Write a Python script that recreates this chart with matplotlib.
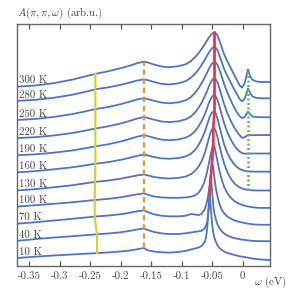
import matplotlib
matplotlib.use("Agg")
import matplotlib.pyplot as plt
import numpy as np

plt.rcParams['font.family'] = ['cmr10', 'DejaVu Serif']
plt.rcParams['mathtext.fontset'] = 'cm'
plt.rcParams['axes.unicode_minus'] = False
plt.rcParams['axes.formatter.use_mathtext'] = True

# energy grid (eV)
omega = [-0.37, -0.34, -0.31, -0.28, -0.26, -0.24, -0.22, -0.20, -0.185, -0.173,
         -0.162, -0.156, -0.146, -0.133, -0.12, -0.105, -0.093, -0.085, -0.078, -0.072,
         -0.067, -0.063, -0.06, -0.058, -0.056, -0.054, -0.052, -0.05, -0.048, -0.046,
         -0.044, -0.041, -0.038, -0.034, -0.03, -0.025, -0.02, -0.015, -0.01, -0.005,
         -0.001, 0.003, 0.006, 0.009, 0.012, 0.016, 0.022, 0.03, 0.045]

temps = ["10 K", "40 K", "70 K", "100 K", "130 K", "160 K", "190 K", "220 K", "250 K", "280 K", "300 K"]

# spectra (arb.u., before the vertical shift)
a_10 = [0, 1.3, 2.5, 3.5, 4.2, 4.8, 5.6, 6.5, 7.5, 8.7, 10, 7.8, 6.5, 5.7, 5.4, 6, 7.2, 8.5, 9.5, 10.5,
        12, 15, 20, 30, 47, 63, 50, 34, 25, 20, 16.5, 12.5, 10, 8, 6.5, 5, 4.2, 3.3, 2.5, 1.8,
        1.3, 1, 0.6, 0.3, 0, -0.5, -1, -1.5, -2]
a_40 = [0, 1.8, 3.3, 4.6, 5.6, 6.5, 7.4, 8.6, 10, 11.4, 12.5, 11, 9, 7.5, 6.8, 6.9, 7.6, 8.4, 9, 9.5,
        10.2, 12, 15, 19, 30, 47, 63.7, 50, 35, 27, 22, 16.5, 12.8, 9.5, 7.2, 5.3, 4, 3, 2.3, 1.7,
        1.3, 1, 0.7, 0.5, 0.3, 0, -0.2, -0.3, -0.3]
a_70 = [0, 1.5, 3.2, 4.9, 6.1, 7.3, 8.2, 9.5, 11, 12.5, 13.3, 11.8, 9.5, 8, 7.4, 7.4, 8, 9.8, 9.2, 8.6,
        10, 13.5, 18, 23, 30, 39, 50, 62, 56, 45, 36, 27, 20, 14, 10.3, 7.3, 5.4, 3.7, 2.7, 1.9,
        1.3, 0.8, 0.4, 0.1, -0.2, -0.5, -0.8, -1, -1]
a_100 = [0, 1.4, 2.8, 4.3, 5.5, 6.7, 7.8, 9.3, 11, 12.3, 13.2, 12, 10.2, 9.2, 8.8, 8.8, 9.2, 9.9, 11.2, 14,
         18.5, 24, 30, 35.5, 41, 47, 53, 58.5, 61.7, 59.5, 54, 45, 36, 26.5, 19.5, 13.5, 9.3, 6.3, 4.2, 2.7,
         1.7, 1, 0.5, 0.1, -0.2, -0.6, -1, -1.3, -1.3]
a_130 = [-1, 0.3, 2.2, 4.2, 6, 7.7, 9, 10.8, 12.6, 14, 15, 14.2, 12.6, 11.4, 11, 11.6, 13, 15.2, 18.5, 23,
         28.5, 34.5, 40.5, 45, 49.5, 54, 57.7, 60.3, 61.7, 61, 58.5, 52, 44, 34, 25.5, 17.5, 11.5, 7.2, 4.2, 2.2,
         1, 0.3, -0.1, -0.4, -0.6, -0.8, -1, -1, -1]
a_160 = [0, 1.2, 3, 5, 6.8, 8.7, 10.3, 12.5, 14.6, 16.5, 17.7, 17, 15.4, 14, 13.6, 14.3, 16, 18.5, 22.3, 27.5,
         33.5, 39, 44, 48, 51.5, 55.5, 58, 59.8, 60.6, 60.7, 59, 53.5, 46, 36.5, 27.5, 19.5, 13.5, 9, 5.7, 3.5,
         2.3, 1.6, 1.2, 1, 0.9, 0.8, 0.7, 0.7, 0.7]
a_190 = [0, 0.9, 2.5, 4.7, 6.8, 9, 11, 13.7, 16.3, 18.5, 20, 19.3, 17.5, 15.6, 15, 15.8, 17.6, 20.2, 24, 29,
         34.5, 39.5, 44, 47.5, 51, 54, 56.5, 58.5, 59.7, 60, 58.8, 55, 49, 40, 31.5, 23, 16.5, 11, 6.8, 3.8,
         2.2, 1.6, 1.5, 1.7, 1.7, 1.7, 1.7, 1.7, 1.7]
a_220 = [0, 0.9, 2.6, 5, 7.2, 9.7, 11.8, 14.6, 17.2, 19.5, 21, 20.3, 18.5, 16.6, 16, 16.8, 18.8, 21.5, 25.5, 30.5,
         35.5, 40.5, 44.5, 47.5, 50.5, 53.5, 56, 58, 59.3, 59.7, 58.8, 55.5, 50, 41.5, 33.5, 25, 18, 12, 7, 3,
         0.3, 0.6, 2, 3.2, 3, 2.9, 3, 3, 3]
a_250 = [1, 2, 4, 6.8, 9.3, 12, 14, 16.8, 19.3, 21.5, 22.7, 22, 20.3, 18.4, 17.7, 18.6, 20.8, 23.8, 28, 33,
         38, 42.5, 46, 48.5, 51, 53.5, 55.5, 57.3, 58.5, 59.2, 58.5, 56, 51.5, 44, 36.5, 28.5, 21.5, 15, 9.5, 5,
         3, 3.5, 6.5, 9.3, 7, 4.5, 3.9, 3.7, 3.7]
a_280 = [3, 4, 6, 9, 11.7, 14.7, 16.5, 19, 21.3, 23.3, 24.4, 23.8, 22, 20, 19.4, 20.5, 22.8, 26, 30, 34.5,
         39, 43, 46, 48.5, 50.5, 52.5, 54.2, 55.6, 56.5, 56.7, 56.1, 53.5, 48.5, 41.5, 34.5, 28, 22, 16, 10.5, 5,
         2.5, 4.5, 9.5, 15.4, 11.5, 7.5, 6, 5.6, 5.5]
a_300 = [0, 1.2, 3.5, 7, 10, 13, 15.5, 18.5, 21, 23.5, 25, 24.3, 22.3, 20.2, 19.5, 20.5, 22.5, 25.5, 29.5, 33.5,
         38, 41.5, 44.5, 46.5, 48.5, 50.2, 51.8, 53, 53.8, 54, 53.5, 51, 46, 39, 32, 25.5, 19.5, 13.5, 7.5, 1.5,
         -1, 3, 10, 17.4, 11, 7, 5.3, 4.7, 4.7]

spectra = [a_10, a_40, a_70, a_100, a_130, a_160, a_190, a_220, a_250, a_280, a_300]

# energy of the kink marked by the yellow line, per temperature
kink_w = [-0.2385, -0.239, -0.2425, -0.2425, -0.242, -0.2415, -0.2415, -0.2415, -0.2415, -0.2415, -0.2415]
# small peak above E_F (green dots), seen from 130 K up
small_w = 0.009

step = 17.13
y0 = 8.0
blue = '#4f74c4'

fig = plt.figure(figsize=(2.91, 2.91), dpi=100)
ax = fig.add_axes([17 / 291, 25 / 291, 253 / 291, 242 / 291])

w = np.array(omega)
shifted = [np.array(s) + y0 + step * i for i, s in enumerate(spectra)]

for i, y in enumerate(shifted):
    ax.plot(w, y, color=blue, lw=1.3, zorder=2)
    ax.text(-0.3665, y[0] + 6, temps[i], fontsize=7.8, va='center', ha='left', color='#444444')

# yellow kink line
ky = [np.interp(kink_w[i], w, shifted[i]) for i in range(len(shifted))]
ax.plot(kink_w, ky, color='#d6cf3a', lw=1.6, zorder=3)

# orange dashed through the hump
hmask = (w > -0.2) & (w < -0.13)
hx, hy = [], []
for y in shifted:
    j = np.argmax(np.where(hmask, y, -1e9))
    hx.append(w[j])
    hy.append(y[j])
ax.plot(hx, hy, color='#e8953a', lw=1.6, ls=(0, (2.5, 1.6)), zorder=3)

# red line through the main peak
pmask = (w > -0.07) & (w < -0.03)
px, py = [], []
for y in shifted:
    j = np.argmax(np.where(pmask, y, -1e9))
    px.append(w[j])
    py.append(y[j])
ax.plot(px, py, color='#e23a4c', lw=2.0, zorder=4)

# green dots at the small peak
gy = [np.interp(small_w, w, shifted[i]) for i in range(4, len(shifted))]
ax.plot([small_w] * len(gy), gy, color='#5cb85c', lw=1.8, ls=(0, (0.8, 1.0)), zorder=4)

ax.set_xlim(omega[0], omega[-1])
ax.set_ylim(0, 242)
ticks = [-0.35, -0.3, -0.25, -0.2, -0.15, -0.1, -0.05, 0]
ax.set_xticks(ticks)
ax.set_xticklabels(["-0.35", "-0.3", "-0.25", "-0.2", "-0.15", "-0.1", "-0.05", "0"])
ax.set_yticks([])
ax.tick_params(axis='x', direction='in', top=True, length=3.5, width=0.9,
               labelsize=7.8, colors='#555555', labelcolor='#444444', pad=4)
for sp in ax.spines.values():
    sp.set_color('#666666')
    sp.set_linewidth(1.0)

ax.text(0.0, 1.012, r"$A(\pi,\pi,\omega)$ (arb.u.)", transform=ax.transAxes,
        fontsize=7.8, ha='left', va='bottom', color='#444444')
ax.text(0.935, -0.068, r"$\omega$ (eV)", transform=ax.transAxes,
        fontsize=7.8, ha='left', va='center', color='#444444')

fig.savefig("out.png", dpi=100)
